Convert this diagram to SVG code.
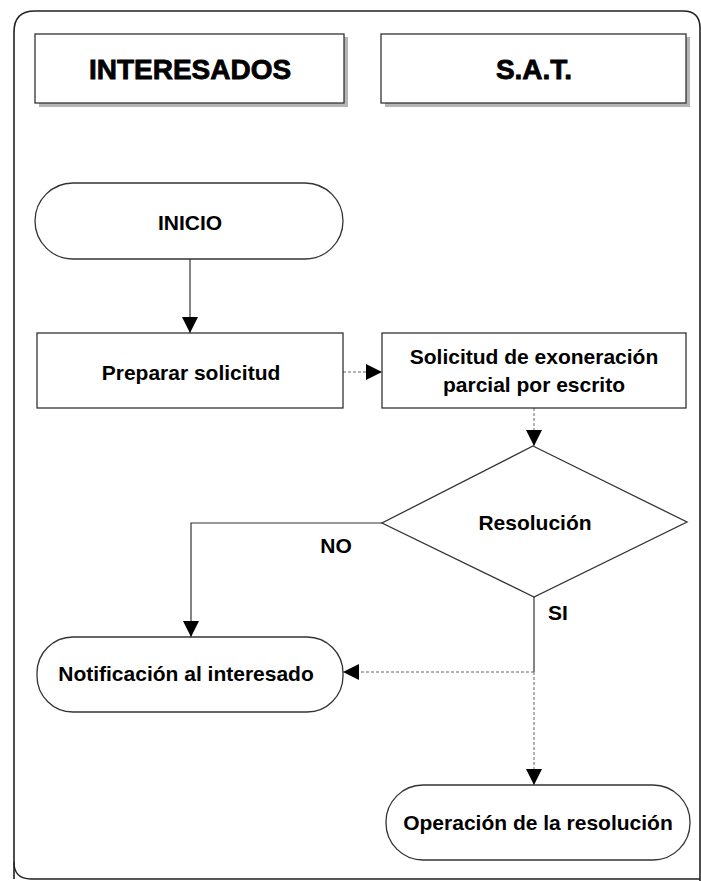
<svg xmlns="http://www.w3.org/2000/svg" width="701" height="881" viewBox="0 0 701 881">
<style>
.box{fill:#fff;stroke:#333;stroke-width:1.3}
.shadow{fill:#b5b5b5}
.hdr{font-family:"Liberation Sans",Arial,sans-serif;font-weight:900;font-size:28px;fill:#000;text-anchor:middle;stroke:#000;stroke-width:0.8}
.lbl{font-family:"Liberation Sans",Arial,sans-serif;font-weight:bold;font-size:21px;fill:#000;text-anchor:middle}
.ln{fill:none;stroke:#333;stroke-width:1.2}
.dl{fill:none;stroke:#666;stroke-width:1;stroke-dasharray:3,2}
</style>
<defs>
<marker id="arr" viewBox="0 0 10 10" refX="10" refY="5" markerWidth="16" markerHeight="16" markerUnits="userSpaceOnUse" orient="auto">
<path d="M0,0 L10,5 L0,10 Z" fill="#000"/>
</marker>
</defs>
<rect width="701" height="881" fill="#fff"/>
<g id="frame">
<path d="M14,879 L14,32 Q14,11 35,11 L683,11 Q700,11 700,28 L700,881" fill="none" stroke="#222" stroke-width="1.6"/>
<path d="M14,862 Q14,879 31,879 L700,879" fill="none" stroke="#222" stroke-width="1.3"/>
</g>
<g id="hdr-interesados">
<rect class="shadow" x="39" y="37" width="309" height="70"/>
<rect class="box" x="35" y="34" width="309" height="69"/>
<text class="hdr" x="190" y="79">INTERESADOS</text>
</g>
<g id="hdr-sat">
<rect class="shadow" x="385" y="37" width="305" height="70"/>
<rect class="box" x="381" y="34" width="305" height="69"/>
<text class="hdr" x="534" y="79">S.A.T.</text>
</g>
<g id="connectors">
<line class="ln" x1="190" y1="259" x2="190" y2="333" marker-end="url(#arr)"/>
<line class="dl" x1="343" y1="372" x2="382" y2="372" marker-end="url(#arr)"/>
<line class="dl" x1="534" y1="408" x2="534" y2="446" marker-end="url(#arr)"/>
<polyline class="ln" points="382,523 191,523 191,637" marker-end="url(#arr)"/>
<line class="ln" x1="534" y1="597" x2="534" y2="672"/>
<line class="dl" x1="534" y1="672" x2="343" y2="672" marker-end="url(#arr)"/>
<line class="dl" x1="534" y1="672" x2="534" y2="785" marker-end="url(#arr)"/>
<text class="lbl" x="336" y="553">NO</text>
<text class="lbl" x="558" y="620">SI</text>
</g>
<g id="inicio">
<rect class="box" x="35" y="183" width="308" height="76" rx="38" ry="38"/>
<text class="lbl" x="190" y="230">INICIO</text>
</g>
<g id="preparar">
<rect class="box" x="37" y="333" width="306" height="75"/>
<text class="lbl" x="191" y="380">Preparar solicitud</text>
</g>
<g id="solicitud">
<rect class="box" x="382" y="333" width="304" height="75"/>
<text class="lbl" x="534" y="364">Solicitud de exoneración</text>
<text class="lbl" x="534" y="392">parcial por escrito</text>
</g>
<g id="resolucion">
<polygon class="box" points="533,446 687,522 534,597 382,523"/>
<text class="lbl" x="535" y="530">Resolución</text>
</g>
<g id="notificacion">
<rect class="box" x="37" y="637" width="306" height="75" rx="36" ry="36"/>
<text class="lbl" x="186" y="681">Notificación al interesado</text>
</g>
<g id="operacion">
<rect class="box" x="386" y="785" width="304" height="75" rx="37" ry="37"/>
<text class="lbl" x="538" y="830">Operación de la resolución</text>
</g>
</svg>
